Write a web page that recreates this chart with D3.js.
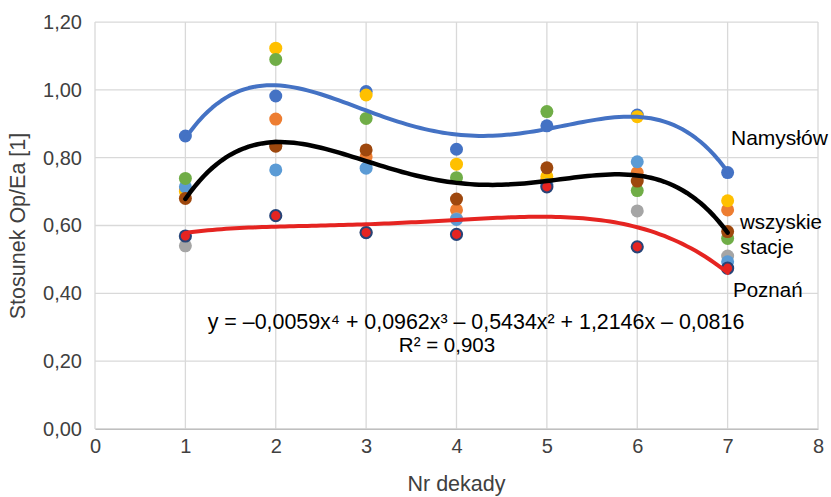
<!DOCTYPE html>
<html>
<head>
<meta charset="utf-8">
<script src="https://cdn.jsdelivr.net/npm/d3@7"></script>
<style>
  html, body { margin: 0; padding: 0; background: #fff; }
  svg { display: block; font-family: "Liberation Sans", Arial, sans-serif; }
</style>
</head>
<body>
<svg id="chart" width="831" height="497"></svg>
<script>
// ---------------- DATA ----------------
const decades = [1, 2, 3, 4, 5, 6, 7];
const xTicks = [0, 1, 2, 3, 4, 5, 6, 7, 8];
const yTicks = [0, 0.2, 0.4, 0.6, 0.8, 1.0, 1.2];

const namyslow   = [0.864, 0.982, 0.995, 0.825, 0.894, 0.926, 0.756];
const stationOrange = [0.705, 0.914, 0.803, 0.646, 0.735, 0.756, 0.646];
const stationGray   = [0.540, 0.835, 0.580, 0.620, 0.720, 0.643, 0.510];
const stationYellow = [0.700, 1.123, 0.985, 0.781, 0.744, 0.921, 0.673];
const stationLightBlue = [0.714, 0.764, 0.769, 0.618, 0.720, 0.788, 0.493];
const stationGreen  = [0.739, 1.090, 0.916, 0.741, 0.936, 0.703, 0.562];
const poznan     = [0.569, 0.629, 0.579, 0.574, 0.714, 0.537, 0.474];
const allStations = [0.680, 0.834, 0.823, 0.678, 0.770, 0.731, 0.582];

const equationText = "y = \u20130,0059x\u2074 + 0,0962x\u00B3 \u2013 0,5434x\u00B2 + 1,2146x \u2013 0,0816";
const r2Text = "R\u00B2 = 0,903";

// ---------------- SETUP ----------------
const svg = d3.select("#chart");
const x = d3.scaleLinear().domain([0, 8]).range([95, 818]);
const y = d3.scaleLinear().domain([0, 1.2]).range([428.9, 22.1]);
const fmt = v => d3.format(".2f")(v).replace(".", ",");

// gridlines
svg.append("g").selectAll("line").data(yTicks).join("line")
  .attr("x1", x(0)).attr("x2", x(8))
  .attr("y1", d => y(d)).attr("y2", d => y(d))
  .attr("stroke", "#d9d9d9").attr("stroke-width", 1.3);
svg.append("g").selectAll("line").data(xTicks).join("line")
  .attr("x1", d => x(d)).attr("x2", d => x(d))
  .attr("y1", y(0)).attr("y2", y(1.2))
  .attr("stroke", "#d9d9d9").attr("stroke-width", 1.3);

// axes labels
const yAxis = d3.axisLeft(y).tickValues(yTicks).tickFormat(fmt).tickSize(0).tickPadding(13);
const gy = svg.append("g").attr("transform", `translate(${x(0)},0)`).call(yAxis);
gy.select(".domain").remove();
gy.selectAll("text").attr("font-size", 20).attr("fill", "#404040")
  .attr("font-family", "Liberation Sans, Arial, sans-serif");

const xAxis = d3.axisBottom(x).tickValues(xTicks).tickFormat(d3.format("d")).tickSize(0).tickPadding(10);
const gx = svg.append("g").attr("transform", `translate(0,${y(0)})`).call(xAxis);
gx.select(".domain").attr("stroke", "#bfbfbf").attr("stroke-width", 1.3);
gx.selectAll("text").attr("font-size", 20).attr("fill", "#404040")
  .attr("font-family", "Liberation Sans, Arial, sans-serif");

svg.append("text").attr("x", x(4)).attr("y", 491).attr("text-anchor", "middle")
  .attr("font-size", 21.5).attr("fill", "#404040").text("Nr dekady");
svg.append("text").attr("transform", "translate(25,226) rotate(-90)").attr("text-anchor", "middle")
  .attr("font-size", 21.5).attr("fill", "#404040").text("Stosunek Op/Ea [1]");

// ---------------- POINTS ----------------
const series = [
  {vals: namyslow, fill: "#4472c4"},
  {vals: stationOrange, fill: "#ed7d31"},
  {vals: stationGray, fill: "#a5a5a5"},
  {vals: stationYellow, fill: "#ffc000"},
  {vals: stationLightBlue, fill: "#5b9bd5"},
  {vals: stationGreen, fill: "#70ad47"},
  {vals: poznan, fill: "#e52421", stroke: "#264478"},
  {vals: allStations, fill: "#9e480e"}
];
series.forEach(s => {
  svg.append("g").selectAll("circle").data(decades.map((d, i) => [d, s.vals[i]])).join("circle")
    .attr("cx", d => x(d[0])).attr("cy", d => y(d[1]))
    .attr("r", s.stroke ? 5.6 : 6.5)
    .attr("fill", s.fill)
    .attr("stroke", s.stroke || "none").attr("stroke-width", s.stroke ? 2 : 0);
});

// ---------------- TRENDLINES (polynomial, order 4, least squares) ----------------
function polyFit(xs, ys, deg) {
  const n = deg + 1;
  const A = Array.from({length: n}, () => new Array(n + 1).fill(0));
  for (let r = 0; r < n; r++) {
    for (let c = 0; c < n; c++) A[r][c] = d3.sum(xs, xv => Math.pow(xv, r + c));
    A[r][n] = d3.sum(xs, (xv, i) => ys[i] * Math.pow(xv, r));
  }
  for (let i = 0; i < n; i++) {
    let p = i;
    for (let k = i + 1; k < n; k++) if (Math.abs(A[k][i]) > Math.abs(A[p][i])) p = k;
    [A[i], A[p]] = [A[p], A[i]];
    for (let k = i + 1; k < n; k++) {
      const f = A[k][i] / A[i][i];
      for (let c = i; c <= n; c++) A[k][c] -= f * A[i][c];
    }
  }
  const coef = new Array(n).fill(0);
  for (let i = n - 1; i >= 0; i--) {
    let s = A[i][n];
    for (let c = i + 1; c < n; c++) s -= A[i][c] * coef[c];
    coef[i] = s / A[i][i];
  }
  return xv => coef.reduce((acc, cf, i) => acc + cf * Math.pow(xv, i), 0);
}
const samples = d3.range(1, 7.0001, 0.05);
const line = d3.line().x(d => x(d[0])).y(d => y(d[1])).curve(d3.curveLinear);
[
  {vals: namyslow, color: "#4472c4", w: 4},
  {vals: poznan, color: "#e52421", w: 4},
  {vals: allStations, color: "#000000", w: 4.5}
].forEach(t => {
  const f = polyFit(decades, t.vals, 4);
  svg.append("path").datum(samples.map(s => [s, f(s)]))
    .attr("d", line).attr("fill", "none").attr("stroke", t.color)
    .attr("stroke-width", t.w).attr("stroke-linecap", "round").attr("stroke-linejoin", "round");
});

// ---------------- ANNOTATIONS ----------------
svg.append("text").attr("x", 731).attr("y", 145).attr("font-size", 21).attr("fill", "#000").text("Namysłów");
svg.append("text").attr("x", 740).attr("y", 229).attr("font-size", 20.5).attr("fill", "#000").text("wszyskie");
svg.append("text").attr("x", 740).attr("y", 254).attr("font-size", 20.5).attr("fill", "#000").text("stacje");
svg.append("text").attr("x", 733).attr("y", 297).attr("font-size", 20.5).attr("fill", "#000").text("Poznań");
svg.append("text").attr("x", 476).attr("y", 329).attr("text-anchor", "middle").attr("font-size", 21.4).attr("fill", "#000").text(equationText);
svg.append("text").attr("x", 447).attr("y", 352).attr("text-anchor", "middle").attr("font-size", 20.5).attr("fill", "#000").text(r2Text);
</script>
</body>
</html>
